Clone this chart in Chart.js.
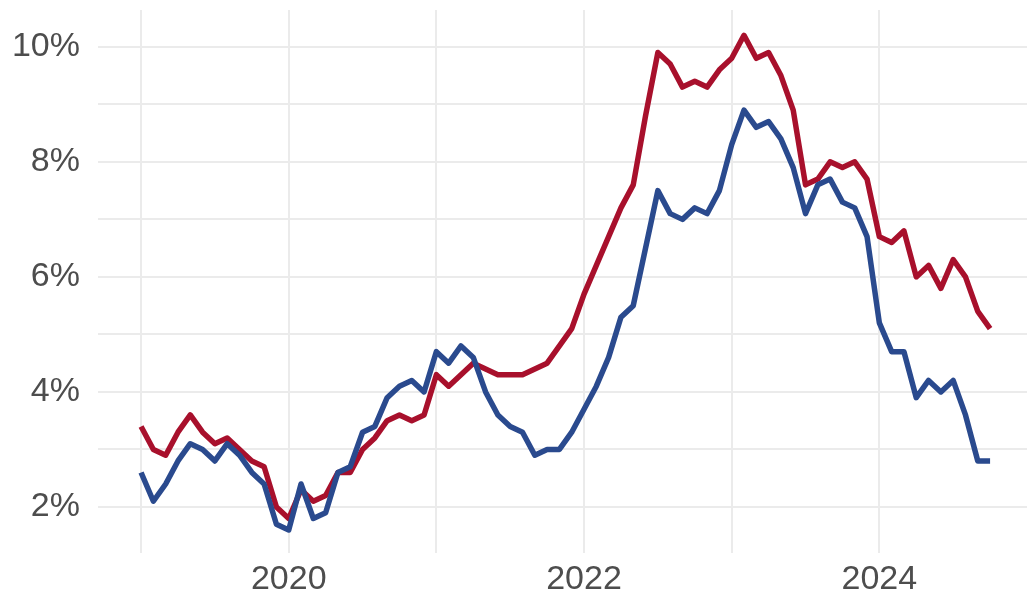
<!DOCTYPE html>
<html>
<head>
<meta charset="utf-8">
<script src="https://cdn.jsdelivr.net/npm/chart.js@4"></script>
<style>
  html, body { margin: 0; padding: 0; background: #ffffff; }
  #wrap { width: 1027px; height: 599px; }
</style>
</head>
<body>
<div id="wrap"><canvas id="rateChart" width="1027" height="599"></canvas></div>
<script>
    // monthly, Jan 2019 .. Oct 2024
    const startYear = 2019;
    const redSeries = [
      3.4, 3.0, 2.9, 3.3, 3.6, 3.3, 3.1, 3.2, 3.0, 2.8, 2.7, 2.0,
      1.8, 2.3, 2.1, 2.2, 2.6, 2.6, 3.0, 3.2, 3.5, 3.6, 3.5, 3.6,
      4.3, 4.1, 4.3, 4.5, 4.4, 4.3, 4.3, 4.3, 4.4, 4.5, 4.8, 5.1,
      5.7, 6.2, 6.7, 7.2, 7.6, 8.8, 9.9, 9.7, 9.3, 9.4, 9.3, 9.6,
      9.8, 10.2, 9.8, 9.9, 9.5, 8.9, 7.6, 7.7, 8.0, 7.9, 8.0, 7.7,
      6.7, 6.6, 6.8, 6.0, 6.2, 5.8, 6.3, 6.0, 5.4, 5.1
    ];
    const blueSeries = [
      2.6, 2.1, 2.4, 2.8, 3.1, 3.0, 2.8, 3.1, 2.9, 2.6, 2.4, 1.7,
      1.6, 2.4, 1.8, 1.9, 2.6, 2.7, 3.3, 3.4, 3.9, 4.1, 4.2, 4.0,
      4.7, 4.5, 4.8, 4.6, 4.0, 3.6, 3.4, 3.3, 2.9, 3.0, 3.0, 3.3,
      3.7, 4.1, 4.6, 5.3, 5.5, 6.5, 7.5, 7.1, 7.0, 7.2, 7.1, 7.5,
      8.3, 8.9, 8.6, 8.7, 8.4, 7.9, 7.1, 7.6, 7.7, 7.3, 7.2, 6.7,
      5.2, 4.7, 4.7, 3.9, 4.2, 4.0, 4.2, 3.6, 2.8, 2.8
    ];
    const yearTicks = [2019, 2020, 2021, 2022, 2023, 2024];
    const yTicks = [2, 3, 4, 5, 6, 7, 8, 9, 10];

    const months = redSeries.map((_, i) => i); // months since Jan 2019

    const toPoints = vals => vals.map((v, i) => ({ x: months[i], y: v }));

    const textColor = '#4d4d4d';
    const gridColor = '#ebebeb';

    const noPad = axis => {
      axis.paddingTop = 0;
      axis.paddingBottom = 0;
      axis.paddingLeft = 0;
      axis.paddingRight = 0;
    };

    const ctx = document.getElementById('rateChart').getContext('2d');
    const chart = new Chart(ctx, {
      type: 'line',
      data: {
        datasets: [
          {
            label: 'blue',
            data: toPoints(blueSeries),
            borderColor: '#2a4a8e',
            borderWidth: 5.5,
            pointRadius: 0,
            tension: 0,
            borderJoinStyle: 'round',
            borderCapStyle: 'butt'
          },
          {
            label: 'red',
            data: toPoints(redSeries),
            borderColor: '#a8102c',
            borderWidth: 5.5,
            pointRadius: 0,
            tension: 0,
            borderJoinStyle: 'round',
            borderCapStyle: 'butt'
          }
        ]
      },
      options: {
        responsive: false,
        animation: false,
        layout: { padding: { top: 10, right: 0, left: 0, bottom: 0 } },
        plugins: {
          legend: { display: false },
          tooltip: { enabled: false }
        },
        scales: {
          x: {
            type: 'linear',
            min: -3.5,
            max: 72,
            afterBuildTicks: axis => {
              axis.ticks = yearTicks.map(y => ({ value: (y - startYear) * 12 }));
            },
            afterFit: axis => { axis.height = 46; noPad(axis); },
            grid: { color: gridColor, lineWidth: 2, drawTicks: false },
            border: { display: false },
            ticks: {
              padding: 6,
              maxRotation: 0,
              autoSkip: false,
              color: textColor,
              font: { family: 'Liberation Sans, Arial, sans-serif', size: 34 },
              callback: v => {
                const yr = startYear + v / 12;
                return yr % 2 === 0 ? String(yr) : '';
              }
            }
          },
          y: {
            min: 1.2,
            max: 10.64,
            afterBuildTicks: axis => {
              axis.ticks = yTicks.map(v => ({ value: v }));
            },
            afterFit: axis => { axis.width = 98; noPad(axis); },
            grid: { color: gridColor, lineWidth: 2, drawTicks: false },
            border: { display: false },
            ticks: {
              padding: 18,
              color: textColor,
              font: { family: 'Liberation Sans, Arial, sans-serif', size: 34 },
              callback: v => (v % 2 === 0 ? v + '%' : '')
            }
          }
        }
      }
    });
</script>
</body>
</html>
